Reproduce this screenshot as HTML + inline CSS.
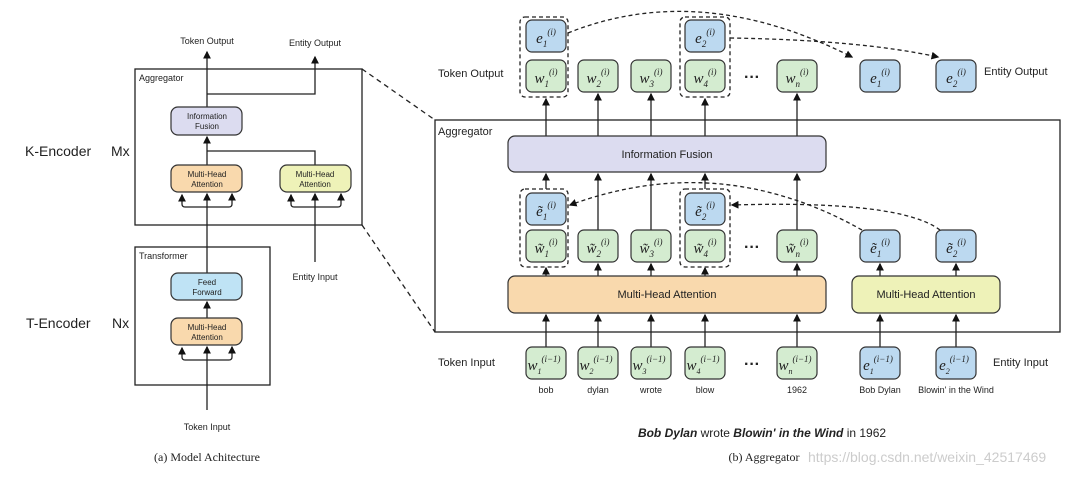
<!DOCTYPE html>
<html><head><meta charset="utf-8"><style>
body{margin:0;background:#fff}
svg text{font-family:"Liberation Sans",sans-serif;fill:#222}
svg .m text{font-family:"Liberation Serif",serif;font-style:italic}
</style></head><body>
<svg width="1080" height="478" viewBox="0 0 1080 478" xmlns="http://www.w3.org/2000/svg">
<defs>
<marker id="a" markerWidth="6" markerHeight="6" refX="5" refY="3" orient="auto"><path d="M0,0 L6,3 L0,6 z" fill="#111"/></marker>
</defs>
<g stroke="#222" stroke-width="1.3" fill="none">
<rect x="135" y="69" width="227" height="156"/>
<rect x="135" y="247" width="135" height="138"/>
<line x1="362" y1="69" x2="435" y2="120" stroke-dasharray="5,4"/>
<line x1="362" y1="225" x2="435" y2="332" stroke-dasharray="5,4"/>
<line x1="207" y1="410" x2="207" y2="347" marker-end="url(#a)"/>
<line x1="207" y1="318" x2="207" y2="302" marker-end="url(#a)"/>
<line x1="207" y1="273" x2="207" y2="194" marker-end="url(#a)"/>
<line x1="207" y1="165" x2="207" y2="137" marker-end="url(#a)"/>
<line x1="207" y1="107" x2="207" y2="52" marker-end="url(#a)"/>
<polyline points="207,94 315,94 315,57" marker-end="url(#a)"/>
<polyline points="207,151 315,151 315,165"/>
<line x1="315" y1="262" x2="315" y2="194" marker-end="url(#a)"/>
<path d="M182,201 v3 q0,3 3,3 h44 q3,0 3,-3 v-3 M182,201 v-6" marker-end="url(#a)"/>
<line x1="232" y1="201" x2="232" y2="194" marker-end="url(#a)"/>
<path d="M291,201 v3 q0,3 3,3 h44 q3,0 3,-3 v-3 M291,201 v-6" marker-end="url(#a)"/>
<line x1="341" y1="201" x2="341" y2="194" marker-end="url(#a)"/>
<path d="M182,354 v3 q0,3 3,3 h44 q3,0 3,-3 v-3 M182,354 v-6" marker-end="url(#a)"/>
<line x1="232" y1="354" x2="232" y2="347" marker-end="url(#a)"/>
</g>
<g stroke="#333" stroke-width="1.2">
<rect x="171" y="107" width="71" height="28" rx="7" fill="#dcdcf0"/>
<rect x="171" y="165" width="71" height="27" rx="7" fill="#f9d9ad"/>
<rect x="280" y="165" width="71" height="27" rx="7" fill="#eef2b8"/>
<rect x="171" y="273" width="71" height="27" rx="7" fill="#bfe3f5"/>
<rect x="171" y="318" width="71" height="27" rx="7" fill="#f9d9ad"/>
</g>
<g font-size="8" text-anchor="middle">
<text x="207" y="119">Information</text><text x="207" y="129">Fusion</text>
<text x="207" y="177">Multi-Head</text><text x="207" y="187">Attention</text>
<text x="315" y="177">Multi-Head</text><text x="315" y="187">Attention</text>
<text x="207" y="285">Feed</text><text x="207" y="295">Forward</text>
<text x="207" y="330">Multi-Head</text><text x="207" y="340">Attention</text>
</g>
<g font-size="9">
<text x="207" y="44" text-anchor="middle">Token Output</text>
<text x="315" y="46" text-anchor="middle">Entity Output</text>
<text x="315" y="280" text-anchor="middle">Entity Input</text>
<text x="207" y="430" text-anchor="middle">Token Input</text>
<text x="139" y="81">Aggregator</text>
<text x="139" y="259">Transformer</text>
</g>
<text x="25" y="156" font-size="14">K-Encoder</text><text x="111" y="156" font-size="14">Mx</text>
<text x="26" y="328" font-size="14">T-Encoder</text><text x="112" y="328" font-size="14">Nx</text>
<text x="207" y="461" font-size="12" text-anchor="middle" style="font-family:'Liberation Serif',serif">(a) Model Achitecture</text>

<g stroke="#222" stroke-width="1.3" fill="none">
<rect x="435" y="120" width="625" height="212"/>
<g stroke-dasharray="4,3">
<rect x="520" y="17" width="48" height="80" rx="5"/>
<rect x="680" y="17" width="50" height="80" rx="5"/>
<rect x="520" y="189" width="48" height="78" rx="5"/>
<rect x="680" y="189" width="50" height="78" rx="5"/>
<path d="M568,33 Q700,-20 852,57" marker-end="url(#a)"/>
<path d="M730,38 Q860,40 938,57" marker-end="url(#a)"/>
<path d="M862,230 Q720,150 570,205" marker-end="url(#a)"/>
<path d="M940,230 Q900,200 732,205" marker-end="url(#a)"/>
</g>
<g marker-end="url(#a)">
<line x1="546" y1="136" x2="546" y2="99"/><line x1="598" y1="136" x2="598" y2="94"/>
<line x1="651" y1="136" x2="651" y2="94"/><line x1="705" y1="136" x2="705" y2="99"/>
<line x1="797" y1="136" x2="797" y2="94"/>
<line x1="546" y1="189" x2="546" y2="174"/><line x1="598" y1="230" x2="598" y2="174"/>
<line x1="651" y1="230" x2="651" y2="174"/><line x1="705" y1="189" x2="705" y2="174"/>
<line x1="797" y1="230" x2="797" y2="174"/>
<line x1="546" y1="276" x2="546" y2="268"/><line x1="598" y1="276" x2="598" y2="264"/>
<line x1="651" y1="276" x2="651" y2="264"/><line x1="705" y1="276" x2="705" y2="268"/>
<line x1="797" y1="276" x2="797" y2="264"/>
<line x1="880" y1="276" x2="880" y2="264"/><line x1="956" y1="276" x2="956" y2="264"/>
<line x1="546" y1="347" x2="546" y2="315"/><line x1="598" y1="347" x2="598" y2="315"/>
<line x1="651" y1="347" x2="651" y2="315"/><line x1="705" y1="347" x2="705" y2="315"/>
<line x1="797" y1="347" x2="797" y2="315"/>
<line x1="880" y1="347" x2="880" y2="315"/><line x1="956" y1="347" x2="956" y2="315"/>
</g>
</g>
<g stroke="#333" stroke-width="1.2">
<rect x="508" y="136" width="318" height="36" rx="7" fill="#dcdcf0"/>
<rect x="508" y="276" width="318" height="37" rx="7" fill="#f9d9ad"/>
<rect x="852" y="276" width="148" height="37" rx="7" fill="#eef2b8"/>
<g fill="#d4ecd0">
<rect x="526" y="60" width="40" height="32" rx="6"/><rect x="578" y="60" width="40" height="32" rx="6"/>
<rect x="631" y="60" width="40" height="32" rx="6"/><rect x="685" y="60" width="40" height="32" rx="6"/>
<rect x="777" y="60" width="40" height="32" rx="6"/>
<rect x="526" y="230" width="40" height="32" rx="6"/><rect x="578" y="230" width="40" height="32" rx="6"/>
<rect x="631" y="230" width="40" height="32" rx="6"/><rect x="685" y="230" width="40" height="32" rx="6"/>
<rect x="777" y="230" width="40" height="32" rx="6"/>
<rect x="526" y="347" width="40" height="32" rx="6"/><rect x="578" y="347" width="40" height="32" rx="6"/>
<rect x="631" y="347" width="40" height="32" rx="6"/><rect x="685" y="347" width="40" height="32" rx="6"/>
<rect x="777" y="347" width="40" height="32" rx="6"/>
</g>
<g fill="#bcd9f0">
<rect x="526" y="20" width="40" height="32" rx="6"/><rect x="685" y="20" width="40" height="32" rx="6"/>
<rect x="860" y="60" width="40" height="32" rx="6"/><rect x="936" y="60" width="40" height="32" rx="6"/>
<rect x="526" y="193" width="40" height="32" rx="6"/><rect x="685" y="193" width="40" height="32" rx="6"/>
<rect x="860" y="230" width="40" height="32" rx="6"/><rect x="936" y="230" width="40" height="32" rx="6"/>
<rect x="860" y="347" width="40" height="32" rx="6"/><rect x="936" y="347" width="40" height="32" rx="6"/>
</g>
</g>
<g class="m" font-size="15" text-anchor="middle">
<text x="546" y="43">e<tspan font-size="9" dy="4">1</tspan><tspan font-size="9" dy="-12">(i)</tspan></text>
<text x="705" y="43">e<tspan font-size="9" dy="4">2</tspan><tspan font-size="9" dy="-12">(i)</tspan></text>
<text x="880" y="83">e<tspan font-size="9" dy="4">1</tspan><tspan font-size="9" dy="-12">(i)</tspan></text>
<text x="956" y="83">e<tspan font-size="9" dy="4">2</tspan><tspan font-size="9" dy="-12">(i)</tspan></text>
<text x="546" y="83">w<tspan font-size="9" dy="4">1</tspan><tspan font-size="9" dy="-12">(i)</tspan></text>
<text x="598" y="83">w<tspan font-size="9" dy="4">2</tspan><tspan font-size="9" dy="-12">(i)</tspan></text>
<text x="651" y="83">w<tspan font-size="9" dy="4">3</tspan><tspan font-size="9" dy="-12">(i)</tspan></text>
<text x="705" y="83">w<tspan font-size="9" dy="4">4</tspan><tspan font-size="9" dy="-12">(i)</tspan></text>
<text x="797" y="83">w<tspan font-size="9" dy="4">n</tspan><tspan font-size="9" dy="-12">(i)</tspan></text>
<text x="546" y="216">ẽ<tspan font-size="9" dy="4">1</tspan><tspan font-size="9" dy="-12">(i)</tspan></text>
<text x="705" y="216">ẽ<tspan font-size="9" dy="4">2</tspan><tspan font-size="9" dy="-12">(i)</tspan></text>
<text x="880" y="253">ẽ<tspan font-size="9" dy="4">1</tspan><tspan font-size="9" dy="-12">(i)</tspan></text>
<text x="956" y="253">ẽ<tspan font-size="9" dy="4">2</tspan><tspan font-size="9" dy="-12">(i)</tspan></text>
<text x="546" y="253">w̃<tspan font-size="9" dy="4">1</tspan><tspan font-size="9" dy="-12">(i)</tspan></text>
<text x="598" y="253">w̃<tspan font-size="9" dy="4">2</tspan><tspan font-size="9" dy="-12">(i)</tspan></text>
<text x="651" y="253">w̃<tspan font-size="9" dy="4">3</tspan><tspan font-size="9" dy="-12">(i)</tspan></text>
<text x="705" y="253">w̃<tspan font-size="9" dy="4">4</tspan><tspan font-size="9" dy="-12">(i)</tspan></text>
<text x="797" y="253">w̃<tspan font-size="9" dy="4">n</tspan><tspan font-size="9" dy="-12">(i)</tspan></text>
</g>
<g class="m" font-size="15" text-anchor="middle">
<text x="544" y="370">w<tspan font-size="8" dy="4">1</tspan><tspan font-size="9" dy="-12">(i−1)</tspan></text>
<text x="596" y="370">w<tspan font-size="8" dy="4">2</tspan><tspan font-size="9" dy="-12">(i−1)</tspan></text>
<text x="649" y="370">w<tspan font-size="8" dy="4">3</tspan><tspan font-size="9" dy="-12">(i−1)</tspan></text>
<text x="703" y="370">w<tspan font-size="8" dy="4">4</tspan><tspan font-size="9" dy="-12">(i−1)</tspan></text>
<text x="795" y="370">w<tspan font-size="8" dy="4">n</tspan><tspan font-size="9" dy="-12">(i−1)</tspan></text>
<text x="878" y="370">e<tspan font-size="8" dy="4">1</tspan><tspan font-size="9" dy="-12">(i−1)</tspan></text>
<text x="954" y="370">e<tspan font-size="8" dy="4">2</tspan><tspan font-size="9" dy="-12">(i−1)</tspan></text>
</g>
<g font-size="16" font-weight="bold" text-anchor="middle">
<text x="752" y="82">···</text><text x="752" y="252">···</text><text x="752" y="369">···</text>
</g>
<g font-size="11">
<text x="438" y="77">Token Output</text>
<text x="984" y="75">Entity Output</text>
<text x="438" y="135">Aggregator</text>
<text x="438" y="366">Token Input</text>
<text x="993" y="366">Entity Input</text>
<text x="667" y="158" text-anchor="middle">Information Fusion</text>
<text x="667" y="298" text-anchor="middle">Multi-Head Attention</text>
<text x="926" y="298" text-anchor="middle">Multi-Head Attention</text>
</g>
<g font-size="9" text-anchor="middle">
<text x="546" y="393">bob</text><text x="598" y="393">dylan</text><text x="651" y="393">wrote</text>
<text x="705" y="393">blow</text><text x="797" y="393">1962</text>
<text x="880" y="393">Bob Dylan</text><text x="956" y="393">Blowin' in the Wind</text>
</g>
<text x="762" y="437" font-size="12" text-anchor="middle"><tspan font-weight="bold" font-style="italic">Bob Dylan</tspan> wrote <tspan font-weight="bold" font-style="italic">Blowin' in the Wind</tspan> in 1962</text>
<text x="764" y="461" font-size="12" text-anchor="middle" style="font-family:'Liberation Serif',serif">(b) Aggregator</text>
<text x="808" y="462" font-size="14" style="fill:#ccc">https://blog.csdn.net/weixin_42517469</text>
</svg>
</body></html>
